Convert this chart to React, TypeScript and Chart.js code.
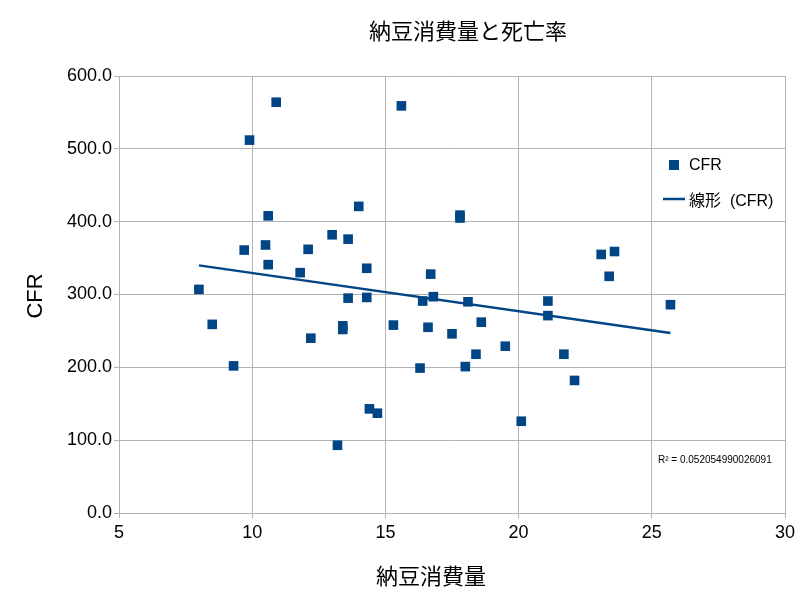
import { useEffect, useRef } from "react";
import Chart from "chart.js/auto";

// 納豆消費量 (x) and CFR (y)
const nattoX = [
  8.0, 8.5, 9.3, 9.7, 9.9, 10.5, 10.6, 10.6, 10.9, 11.8, 12.1, 12.2, 13.0, 13.2, 13.4, 13.4,
  13.6, 13.6, 14.0, 14.3, 14.3, 14.4, 14.7, 15.3, 15.6, 16.3, 16.4, 16.6, 16.7, 16.8, 17.5,
  17.8, 17.8, 18.0, 18.1, 18.4, 18.6, 19.5, 20.1, 21.1, 21.1, 21.7, 22.1, 23.1, 23.4, 23.6, 25.7,
];
const cfrY = [
  307, 259, 202, 361, 512, 368, 408, 341, 564, 330, 362, 240, 382, 93, 257, 252,
  376, 295, 421, 336, 296, 143, 137, 258, 559, 199, 291, 255, 328, 297, 246,
  409, 405, 201, 290, 218, 262, 229, 126, 291, 271, 218, 182, 355, 325, 359, 286,
];
// end points of the linear trend line as drawn
const trendX = [8.0, 25.7];
const trendY = [340, 247];
const xTicks = [5, 10, 15, 20, 25, 30];
const yTicks = [0, 100, 200, 300, 400, 500, 600];

const FONT = "'Liberation Sans', 'Noto Sans CJK JP', sans-serif";
const BLUE = "#004586";
const GRID = "#b3b3b3";

const overlay = {
  id: "overlay",
  afterDraw(chart: Chart) {
    const ctx = chart.ctx;
    ctx.save();
    ctx.fillStyle = "#000";
    ctx.textBaseline = "middle";

    // title
    ctx.font = `22px ${FONT}`;
    ctx.textAlign = "center";
    ctx.fillText("納豆消費量と死亡率", 468, 33);

    // axis titles
    ctx.fillText("納豆消費量", 431, 578);
    ctx.save();
    ctx.translate(36, 296);
    ctx.rotate(-Math.PI / 2);
    ctx.fillText("CFR", 0, 0);
    ctx.restore();

    // legend
    ctx.textAlign = "left";
    ctx.fillStyle = BLUE;
    ctx.fillRect(669, 160, 10, 10);
    ctx.strokeStyle = BLUE;
    ctx.lineWidth = 2.5;
    ctx.beginPath();
    ctx.moveTo(663, 199);
    ctx.lineTo(685, 199);
    ctx.stroke();
    ctx.fillStyle = "#000";
    ctx.font = `16px ${FONT}`;
    ctx.fillText("CFR", 689, 166);
    ctx.fillText("線形  (CFR)", 689, 202);

    // R²
    ctx.font = `10px ${FONT}`;
    ctx.fillText("R² = 0.052054990026091", 658, 460);
    ctx.restore();
  },
};

export default function App() {
  const canvasRef = useRef<HTMLCanvasElement | null>(null);
  const chartRef = useRef<Chart | null>(null);

  useEffect(() => {
    document.body.style.margin = "0";
    if (!canvasRef.current) return;
    if (chartRef.current) chartRef.current.destroy();

    chartRef.current = new Chart(canvasRef.current, {
      type: "scatter",
      data: {
        datasets: [
          {
            label: "CFR",
            data: nattoX.map((x, i) => ({ x, y: cfrY[i] })),
            pointStyle: "rect",
            pointRadius: 6.8,
            pointHoverRadius: 6.8,
            backgroundColor: BLUE,
            borderColor: BLUE,
            borderWidth: 0,
          },
          {
            label: "線形  (CFR)",
            type: "line",
            data: trendX.map((x, i) => ({ x, y: trendY[i] })),
            borderColor: BLUE,
            borderWidth: 2.5,
            pointRadius: 0,
            fill: false,
          },
        ],
      },
      options: {
        responsive: false,
        animation: false,
        layout: { padding: { left: 0, right: 27, top: 76, bottom: 0 } },
        plugins: {
          legend: { display: false },
          title: { display: false },
          tooltip: { enabled: false },
        },
        scales: {
          x: {
            type: "linear",
            min: 5,
            max: 30,
            afterBuildTicks: (scale: any) => {
              scale.ticks = xTicks.map((v) => ({ value: v }));
            },
            afterFit: (scale: any) => {
              scale.height = 85;
            },
            grid: { color: GRID, tickLength: 5, tickColor: GRID },
            border: { color: GRID },
            ticks: {
              color: "#000",
              font: { family: FONT, size: 18 },
              padding: 4,
              maxRotation: 0,
            },
          },
          y: {
            type: "linear",
            min: 0,
            max: 600,
            afterBuildTicks: (scale: any) => {
              scale.ticks = yTicks.map((v) => ({ value: v }));
            },
            afterFit: (scale: any) => {
              scale.width = 119;
            },
            grid: { color: GRID, tickLength: 5, tickColor: GRID },
            border: { color: GRID },
            ticks: {
              color: "#000",
              font: { family: FONT, size: 18 },
              padding: 2,
              callback: (v: any) => Number(v).toFixed(1),
            },
          },
        },
      },
      plugins: [overlay],
    });

    return () => {
      if (chartRef.current) {
        chartRef.current.destroy();
        chartRef.current = null;
      }
    };
  }, []);

  return (
    <div style={{ position: "absolute", left: 0, top: 0, width: 812, height: 598, background: "#fff" }}>
      <canvas ref={canvasRef} width={812} height={598} style={{ width: 812, height: 598 }}></canvas>
    </div>
  );
}
